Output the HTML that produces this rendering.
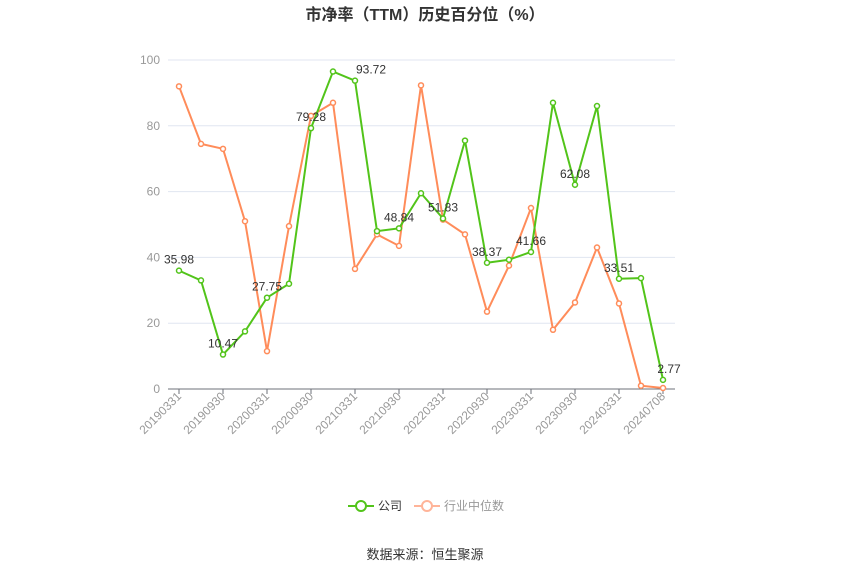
<!DOCTYPE html>
<html><head><meta charset="utf-8"><style>
body{margin:0;background:#fff;width:850px;height:575px;overflow:hidden;font-family:"Liberation Sans","Noto Sans CJK SC",sans-serif}
</style></head><body>
<svg id="s" width="850" height="575" xmlns="http://www.w3.org/2000/svg" font-family="Liberation Sans, Noto Sans CJK SC, sans-serif">
<text x="425" y="20" text-anchor="middle" font-size="16" font-weight="bold" fill="#333">市净率（TTM）历史百分位（%）</text>
<text x="425" y="559" text-anchor="middle" font-size="13" fill="#333">数据来源：恒生聚源</text>
<line x1="348" y1="506" x2="374" y2="506" stroke="#52c41a" stroke-width="2"/>
<circle cx="361" cy="506" r="5" fill="#fff" stroke="#52c41a" stroke-width="2"/>
<text x="378" y="510" font-size="12" fill="#333">公司</text>
<line x1="414" y1="506" x2="440" y2="506" stroke="#ffb499" stroke-width="2"/>
<circle cx="427" cy="506" r="5" fill="#fff" stroke="#ffb499" stroke-width="2"/>
<text x="444" y="510" font-size="12" fill="#999">行业中位数</text>
<g id="g"></g>
</svg>
<script>
var g=document.getElementById('g'),h='';
function Y(v){return 389-v*3.29}
for(var i=0;i<=5;i++){var y=Y(i*20);
 if(i>0)h+='<line x1="168" x2="675" y1="'+y+'" y2="'+y+'" stroke="#e0e6f1"/>';
 h+='<text x="160" y="'+(y+4)+'" text-anchor="end" font-size="12" fill="#999">'+(i*20)+'</text>';}
h+='<line x1="168" x2="675" y1="389" y2="389" stroke="#6e7079"/>';
var labs=['20190331','20190930','20200331','20200930','20210331','20210930','20220331','20220930','20230331','20230930','20240331','20240708'];
for(var k=0;k<12;k++){var x=179+44*k;
 h+='<line x1="'+x+'" x2="'+x+'" y1="389" y2="394" stroke="#6e7079"/>';
 h+='<text transform="translate('+(x+3)+',397) rotate(-45)" text-anchor="end" font-size="12" fill="#999">'+labs[k]+'</text>';}
var G=[35.98,33,10.47,17.5,27.75,32,79.28,96.5,93.72,48,48.84,59.5,51.83,75.5,38.37,39.3,41.66,87,62.08,86,33.51,33.7,2.77];
var O=[92,74.5,73,51,11.5,49.5,83,87,36.5,47,43.5,92.3,51.5,47,23.5,37.5,55,18,26.3,43,26,1,0.3];
function ser(d,c){var p=d.map(function(v,i){return (179+22*i)+','+Y(v)}).join(' ');
 var s='<polyline points="'+p+'" fill="none" stroke="'+c+'" stroke-width="2"/>';
 d.forEach(function(v,i){s+='<circle cx="'+(179+22*i)+'" cy="'+Y(v)+'" r="2.5" fill="#fff" stroke="'+c+'" stroke-width="1.5"/>'});return s;}
h+=ser(O,'#ff8c5a');h+=ser(G,'#52c41a');
var L={0:'35.98',2:'10.47',4:'27.75',6:'79.28',8:'93.72',10:'48.84',12:'51.83',14:'38.37',16:'41.66',18:'62.08',20:'33.51',22:'2.77'};
for(var i in L){var x=179+22*i,y=Y(G[i])-7,dx=(i==8)?0:0;
 h+='<text x="'+(x+(i==8?16:(i==22?6:0)))+'" y="'+y+'" text-anchor="middle" font-size="12" fill="#333">'+L[i]+'</text>';}
g.innerHTML=h;
</script>
</body></html>
